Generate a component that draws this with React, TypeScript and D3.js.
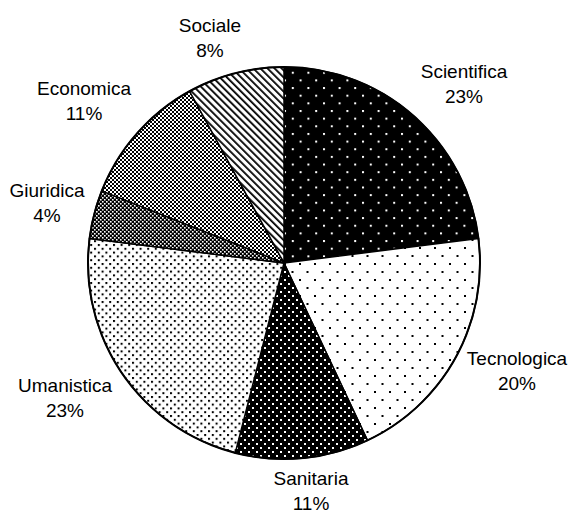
import React, { useEffect, useRef } from 'react';
import * as d3 from 'd3';

const categories = ['Scientifica', 'Tecnologica', 'Sanitaria', 'Umanistica', 'Giuridica', 'Economica', 'Sociale'];
const values = [23, 20, 11, 23, 4, 11, 8];
const patternIds = ['p-sci', 'p-tec', 'p-san', 'p-uma', 'p-giu', 'p-eco', 'p-soc'];

const width = 569;
const height = 510;

// label placement (first-line baseline) relative to the pie centre
const labelOffsets: [number, number][] = [
  [180, -185],
  [233, 102],
  [27, 222],
  [-219, 129],
  [-237, -66],
  [-200, -168],
  [-74, -231],
];

export default function App() {
  const svgRef = useRef<SVGSVGElement>(null);

  useEffect(() => {
    if (!svgRef.current) return;
    const svg = d3.select(svgRef.current);
    svg.selectAll('*').remove();

    const cx = 284;
    const cy = 263;
    const r = 196;

    const defs = svg.append('defs');

    // dotted fills: background, dot colour, tile size, dot size
    const dotPattern = (id: string, bg: string, fg: string, w: number, h: number, s: number) => {
      const p = defs
        .append('pattern')
        .attr('id', id)
        .attr('patternUnits', 'userSpaceOnUse')
        .attr('width', w)
        .attr('height', h);
      p.append('rect').attr('width', w).attr('height', h).attr('fill', bg);
      p.append('rect').attr('x', 0).attr('y', 0).attr('width', s).attr('height', s).attr('fill', fg);
      p.append('rect').attr('x', w / 2).attr('y', h / 2).attr('width', s).attr('height', s).attr('fill', fg);
    };

    dotPattern('p-sci', '#000', '#fff', 15.6, 15.3, 2);
    dotPattern('p-tec', '#fff', '#000', 15, 16, 2);
    dotPattern('p-san', '#000', '#fff', 8, 8, 2);
    dotPattern('p-uma', '#fff', '#000', 7.6, 7.6, 2);
    dotPattern('p-giu', '#000', '#fff', 4, 4, 1.6);
    dotPattern('p-eco', '#fff', '#000', 4, 4, 2);

    // diagonal hatch for Sociale, running top-left to bottom-right
    const soc = defs
      .append('pattern')
      .attr('id', 'p-soc')
      .attr('patternUnits', 'userSpaceOnUse')
      .attr('width', 5)
      .attr('height', 5)
      .attr('patternTransform', 'rotate(-45)');
    soc.append('rect').attr('width', 5).attr('height', 5).attr('fill', '#fff');
    soc.append('rect').attr('width', 1.8).attr('height', 5).attr('fill', '#000');

    const pie = d3
      .pie<number>()
      .sort(null)
      .value((d) => d);
    const arcs = pie(values);

    const arc = d3.arc<d3.PieArcDatum<number>>().innerRadius(0).outerRadius(r);

    const g = svg.append('g').attr('transform', `translate(${cx},${cy})`);

    g.selectAll('path.slice')
      .data(arcs)
      .enter()
      .append('path')
      .attr('class', 'slice')
      .attr('d', arc)
      .attr('fill', (_, i) => `url(#${patternIds[i]})`)
      .attr('stroke', '#000')
      .attr('stroke-width', 1.5)
      .attr('stroke-linejoin', 'round');

    g.append('circle')
      .attr('r', r)
      .attr('fill', 'none')
      .attr('stroke', '#000')
      .attr('stroke-width', 2);

    const total = d3.sum(values);
    const labels = g
      .selectAll('g.label')
      .data(arcs)
      .enter()
      .append('g')
      .attr('class', 'label')
      .attr('transform', (_, i) => `translate(${labelOffsets[i][0]},${labelOffsets[i][1]})`);

    labels
      .append('text')
      .attr('text-anchor', 'middle')
      .attr('y', 0)
      .style('font-family', 'Liberation Sans, Arial, sans-serif')
      .style('font-size', '19px')
      .style('fill', '#000')
      .text((_, i) => categories[i]);

    labels
      .append('text')
      .attr('text-anchor', 'middle')
      .attr('y', 25)
      .style('font-family', 'Liberation Sans, Arial, sans-serif')
      .style('font-size', '19px')
      .style('fill', '#000')
      .text((d) => `${Math.round((d.value / total) * 100)}%`);
  }, []);

  return (
    <svg
      ref={svgRef}
      width={width}
      height={height}
      style={{ position: 'absolute', left: 0, top: 0, background: '#fff' }}
    />
  );
}
